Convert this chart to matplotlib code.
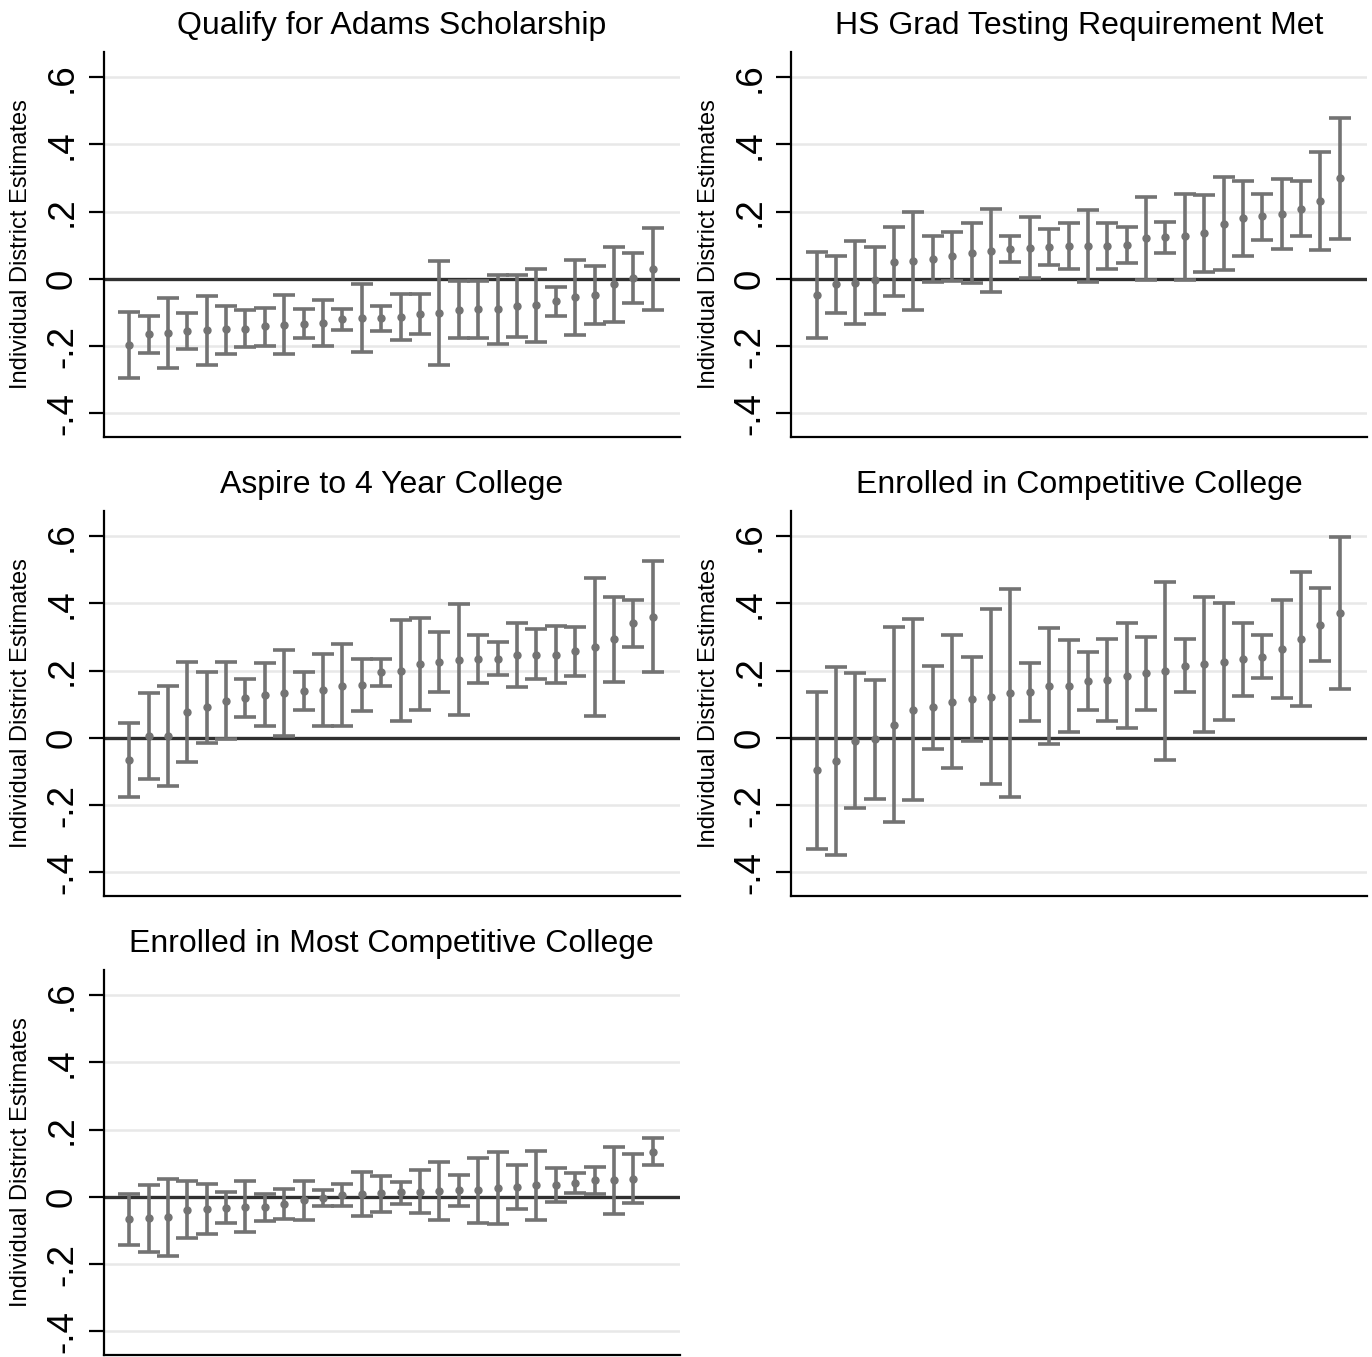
import numpy as np
import matplotlib
matplotlib.use("Agg")
import matplotlib.pyplot as plt

plt.rcParams['font.family'] = ['Liberation Sans', 'DejaVu Sans']

# panel titles
titles = ["Qualify for Adams Scholarship",
          "HS Grad Testing Requirement Met",
          "Aspire to 4 Year College",
          "Enrolled in Competitive College",
          "Enrolled in Most Competitive College"]

# estimates and 95% bounds per district (sorted)
est1 = [-0.195, -0.165, -0.161, -0.155, -0.153, -0.150, -0.148, -0.141, -0.136, -0.133, -0.131, -0.120, -0.116, -0.116,
        -0.113, -0.103, -0.101, -0.091, -0.090, -0.089, -0.081, -0.078, -0.067, -0.055, -0.047, -0.015, 0.004, 0.030]
lo1 = [-0.294, -0.220, -0.265, -0.209, -0.256, -0.223, -0.203, -0.198, -0.223, -0.176, -0.199, -0.153, -0.218, -0.154,
       -0.182, -0.163, -0.255, -0.176, -0.176, -0.192, -0.173, -0.186, -0.111, -0.167, -0.135, -0.127, -0.070, -0.091]
hi1 = [-0.098, -0.110, -0.056, -0.100, -0.052, -0.079, -0.092, -0.085, -0.049, -0.088, -0.064, -0.088, -0.014, -0.079,
       -0.046, -0.044, 0.052, -0.006, -0.006, 0.011, 0.011, 0.030, -0.024, 0.055, 0.040, 0.095, 0.076, 0.151]

est2 = [-0.048, -0.016, -0.011, -0.004, 0.050, 0.054, 0.060, 0.067, 0.077, 0.084, 0.090, 0.092, 0.095, 0.097,
        0.097, 0.099, 0.102, 0.121, 0.124, 0.127, 0.136, 0.164, 0.180, 0.186, 0.194, 0.209, 0.232, 0.299]
lo2 = [-0.177, -0.102, -0.133, -0.105, -0.052, -0.092, -0.008, -0.007, -0.011, -0.040, 0.050, 0.002, 0.041, 0.031,
       -0.009, 0.030, 0.048, -0.003, 0.077, -0.003, 0.020, 0.027, 0.067, 0.116, 0.089, 0.127, 0.085, 0.119]
hi2 = [0.079, 0.069, 0.112, 0.096, 0.154, 0.200, 0.128, 0.141, 0.165, 0.207, 0.129, 0.183, 0.149, 0.165,
       0.204, 0.166, 0.155, 0.244, 0.169, 0.254, 0.251, 0.303, 0.292, 0.254, 0.298, 0.292, 0.377, 0.478]

est3 = [-0.067, 0.005, 0.006, 0.077, 0.091, 0.111, 0.119, 0.129, 0.135, 0.140, 0.143, 0.156, 0.159, 0.195,
        0.199, 0.220, 0.226, 0.233, 0.236, 0.236, 0.248, 0.248, 0.248, 0.259, 0.270, 0.293, 0.341, 0.360]
lo3 = [-0.177, -0.123, -0.142, -0.072, -0.014, -0.004, 0.062, 0.035, 0.006, 0.082, 0.035, 0.035, 0.081, 0.155,
       0.049, 0.082, 0.137, 0.067, 0.163, 0.188, 0.152, 0.174, 0.163, 0.185, 0.064, 0.166, 0.270, 0.195]
hi3 = [0.045, 0.133, 0.155, 0.227, 0.196, 0.227, 0.175, 0.223, 0.261, 0.196, 0.250, 0.279, 0.236, 0.236,
       0.350, 0.357, 0.315, 0.397, 0.305, 0.285, 0.343, 0.323, 0.332, 0.330, 0.475, 0.420, 0.411, 0.525]

est4 = [-0.096, -0.069, -0.008, -0.004, 0.040, 0.084, 0.091, 0.107, 0.117, 0.123, 0.133, 0.138, 0.154, 0.154,
        0.168, 0.172, 0.185, 0.192, 0.198, 0.214, 0.219, 0.227, 0.234, 0.242, 0.264, 0.295, 0.337, 0.372]
lo4 = [-0.330, -0.349, -0.209, -0.181, -0.250, -0.184, -0.032, -0.090, -0.009, -0.137, -0.177, 0.051, -0.018, 0.017,
       0.082, 0.050, 0.029, 0.084, -0.067, 0.136, 0.018, 0.053, 0.126, 0.177, 0.119, 0.096, 0.228, 0.147]
hi4 = [0.138, 0.210, 0.192, 0.173, 0.329, 0.353, 0.214, 0.305, 0.241, 0.384, 0.443, 0.224, 0.328, 0.292,
       0.255, 0.295, 0.342, 0.299, 0.463, 0.293, 0.419, 0.400, 0.341, 0.307, 0.409, 0.494, 0.445, 0.598]

est5 = [-0.067, -0.063, -0.060, -0.038, -0.036, -0.032, -0.030, -0.030, -0.022, -0.010, -0.004, 0.006, 0.009, 0.011,
        0.015, 0.016, 0.019, 0.020, 0.021, 0.028, 0.029, 0.035, 0.037, 0.042, 0.049, 0.050, 0.054, 0.135]
lo5 = [-0.143, -0.163, -0.176, -0.122, -0.110, -0.078, -0.105, -0.070, -0.067, -0.068, -0.026, -0.026, -0.057, -0.044,
       -0.021, -0.049, -0.068, -0.027, -0.076, -0.080, -0.037, -0.069, -0.015, 0.012, 0.008, -0.050, -0.019, 0.096]
hi5 = [0.008, 0.036, 0.053, 0.047, 0.039, 0.014, 0.046, 0.010, 0.025, 0.048, 0.021, 0.039, 0.073, 0.062,
       0.045, 0.079, 0.105, 0.064, 0.117, 0.135, 0.094, 0.138, 0.087, 0.070, 0.088, 0.149, 0.128, 0.174]

ytick_vals = [-0.4, -0.2, 0, 0.2, 0.4, 0.6]
ytick_labels = ["-.4", "-.2", "0", ".2", ".4", ".6"]
ylab = "Individual District Estimates"

panels = [(est1, lo1, hi1), (est2, lo2, hi2), (est3, lo3, hi3), (est4, lo4, hi4), (est5, lo5, hi5)]

W, H = 1372, 1357
fig = plt.figure(figsize=(W / 100, H / 100), dpi=100)

# axes boxes in pixels: left, top, right, bottom
lefts = [103.5, 791]
rights = [680, 1367]
tops = [52, 511, 970]
box_h = 385

for k, (est, lo, hi) in enumerate(panels):
    r, c = k // 2, k % 2
    l, rt, t = lefts[c], rights[c], tops[r]
    ax = fig.add_axes([l / W, 1 - (t + box_h) / H, (rt - l) / W, box_h / H])

    est = np.array(est)
    lo = np.array(lo)
    hi = np.array(hi)
    x = np.arange(1, len(est) + 1)

    for g in ytick_vals:
        if g != 0:
            ax.axhline(g, color='#e8e8e8', lw=1.8, zorder=0)
    ax.axhline(0, color='#303030', lw=2.4, zorder=1)

    ax.errorbar(x, est, yerr=[est - lo, hi - est], fmt='o', color='#737373',
                ms=5, elinewidth=2.6, capsize=8, capthick=2.6, zorder=3)

    ax.set_xlim(-0.32, 29.4)
    ax.set_ylim(-0.47, 0.675)
    ax.set_xticks([])
    ax.set_yticks(ytick_vals)
    ax.set_yticklabels(ytick_labels, fontsize=26.5)
    ax.tick_params(axis='y', length=11, width=1.6, pad=6, labelrotation=90)
    for lbl in ax.get_yticklabels():
        lbl.set_va('center')
    ax.spines['top'].set_visible(False)
    ax.spines['right'].set_visible(False)
    ax.spines['left'].set_linewidth(1.6)
    ax.spines['bottom'].set_linewidth(1.6)
    ax.set_ylabel(ylab, fontsize=17, labelpad=9)
    ax.set_title(titles[k], fontsize=23, pad=13)

fig.savefig("out.png", dpi=100)
